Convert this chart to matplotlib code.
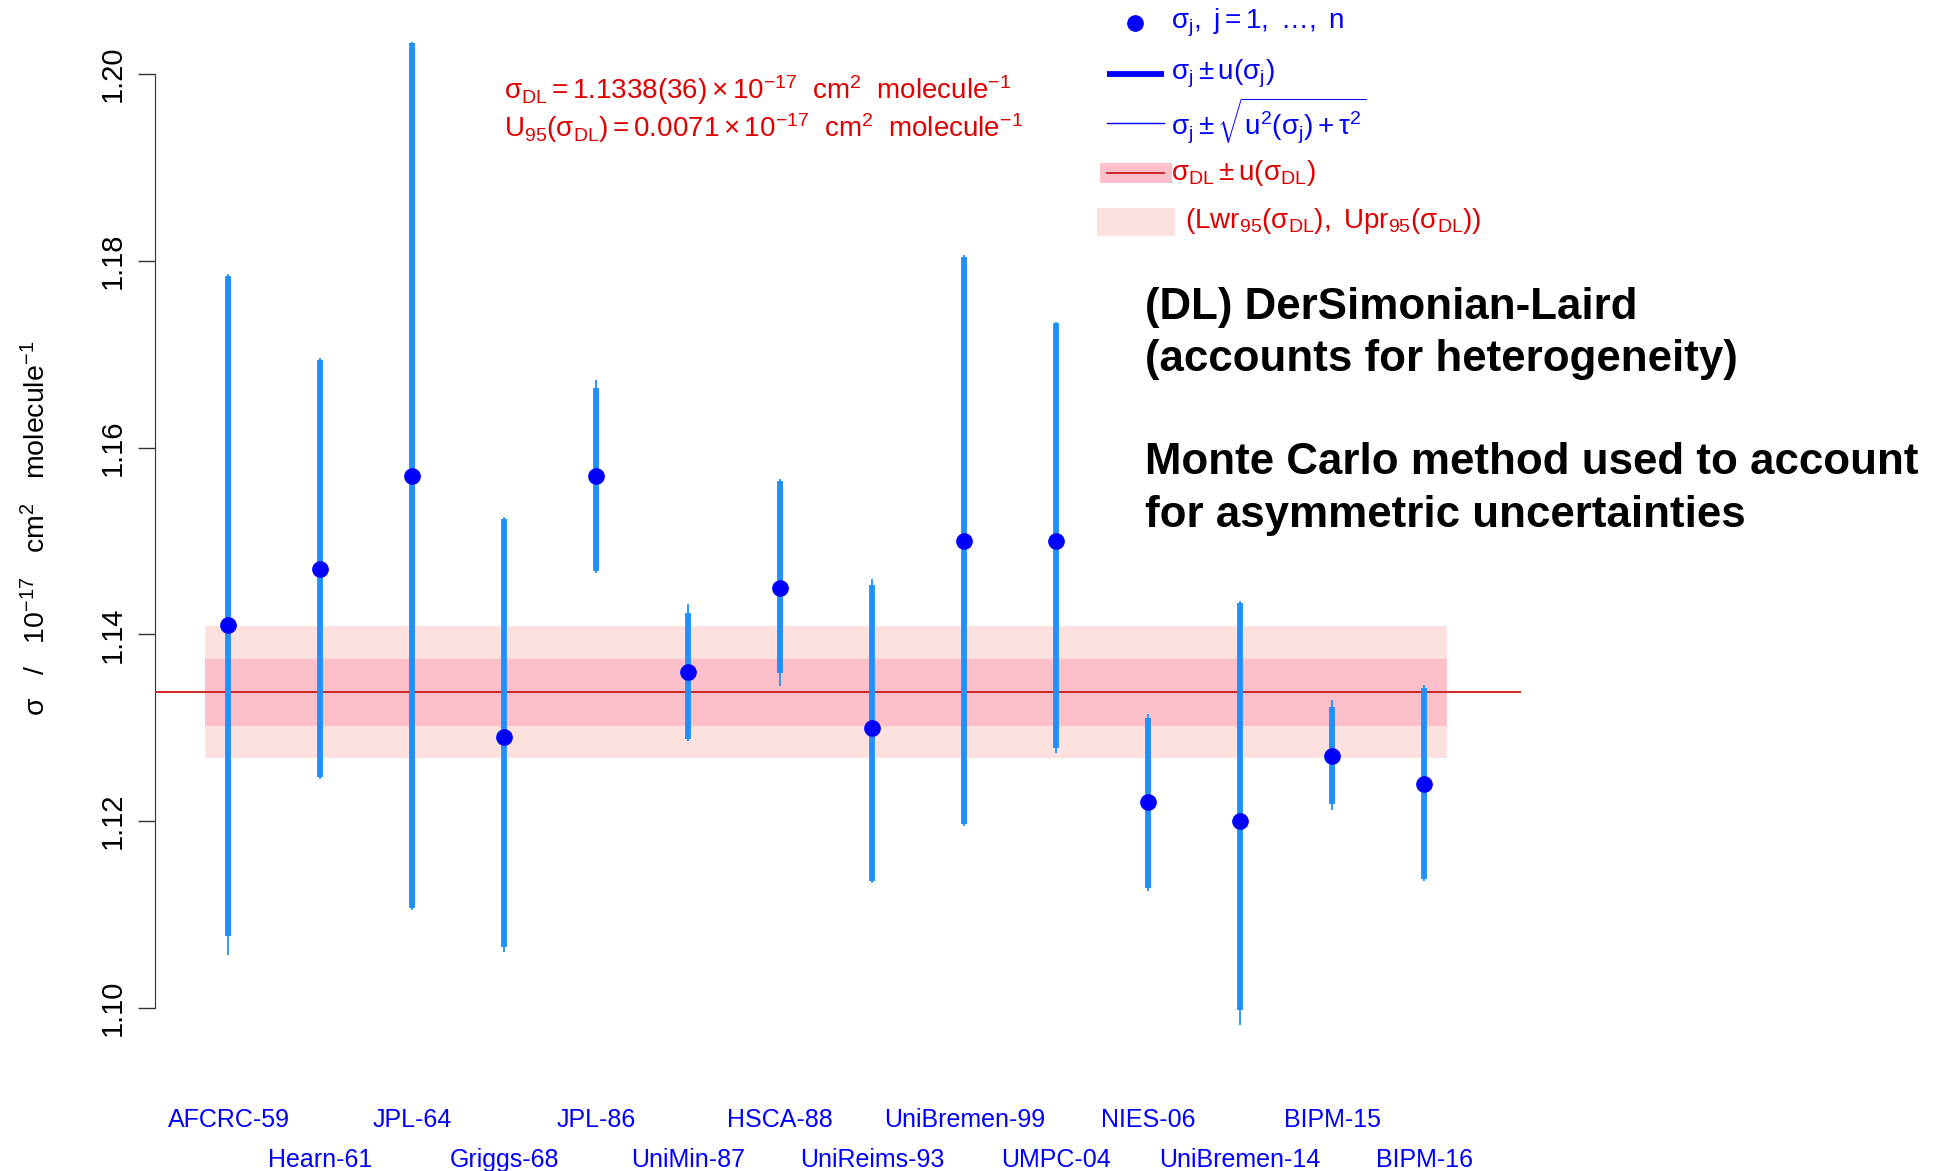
import matplotlib
matplotlib.use("Agg")
import matplotlib.pyplot as plt
from matplotlib.lines import Line2D
from matplotlib.patches import Rectangle
import numpy as np

# labs / estimates (units: 1e-17 cm^2 molecule^-1)
labels = ["AFCRC-59", "Hearn-61", "JPL-64", "Griggs-68", "JPL-86", "UniMin-87",
          "HSCA-88", "UniReims-93", "UniBremen-99", "UMPC-04", "NIES-06",
          "UniBremen-14", "BIPM-15", "BIPM-16"]
sigma = [1.141, 1.147, 1.157, 1.129, 1.157, 1.136, 1.145,
         1.130, 1.150, 1.150, 1.122, 1.120, 1.127, 1.124]
# thick bars: sigma_j +/- u(sigma_j)
u_lo = [1.1077, 1.1247, 1.1107, 1.1065, 1.1468, 1.1288, 1.1359,
        1.1136, 1.1197, 1.1278, 1.1128, 1.0998, 1.1218, 1.1138]
u_hi = [1.1784, 1.1694, 1.2033, 1.1524, 1.1664, 1.1423, 1.1564,
        1.1453, 1.1804, 1.1733, 1.1310, 1.1434, 1.1322, 1.1342]
# thin bars: sigma_j +/- sqrt(u^2 + tau^2)
t_lo = [1.1057, 1.1245, 1.1105, 1.1060, 1.1466, 1.1286, 1.1345,
        1.1134, 1.1195, 1.1273, 1.1125, 1.0982, 1.1212, 1.1136]
t_hi = [1.1786, 1.1696, 1.2035, 1.1526, 1.1672, 1.1433, 1.1566,
        1.1459, 1.1806, 1.1735, 1.1315, 1.1436, 1.1330, 1.1346]

sigma_dl = 1.1338
u_dl = 0.0036
U95 = 0.0071
yticks = [1.10, 1.12, 1.14, 1.16, 1.18, 1.20]

plt.rcParams["font.family"] = "Liberation Sans"
plt.rcParams["mathtext.fontset"] = "custom"
plt.rcParams["mathtext.rm"] = "Liberation Sans"
plt.rcParams["mathtext.it"] = "Liberation Sans:italic"
plt.rcParams["mathtext.default"] = "regular"

W, H = 1941, 1171
fig = plt.figure(figsize=(W / 100, H / 100), dpi=100)
ax = fig.add_axes([0.0798, 0.0916, 0.7037, 0.9064])
ax.set_xlim(0.2, 15.05)
ax.set_ylim(1.094, 1.2077)

x = np.arange(1, len(labels) + 1)
blue = "#0000FF"
bar_blue = "#1E90FF"
red_txt = "#E00000"
fs = 20

# DL estimate: 95% interval, +/- u band and centre line
ax.fill_between([0.75, 14.25], sigma_dl - U95, sigma_dl + U95, color="#FDE1DF", lw=0, zorder=1)
ax.fill_between([0.75, 14.25], sigma_dl - u_dl, sigma_dl + u_dl, color="#FDC0CB", lw=0, zorder=2)
ax.axhline(sigma_dl, color="#CD2626", lw=1.4, zorder=3)

ax.vlines(x, t_lo, t_hi, color=bar_blue, lw=1.3, zorder=4, capstyle="butt")
ax.vlines(x, u_lo, u_hi, color=bar_blue, lw=4.2, zorder=5, capstyle="butt")
ax.plot(x, sigma, "o", color=blue, ms=11, zorder=6)

# axes, R style
for s in ["top", "right", "bottom"]:
    ax.spines[s].set_visible(False)
ax.spines["left"].set_bounds(1.10, 1.20)
ax.spines["left"].set_color("#333333")
ax.set_yticks(yticks)
ax.set_yticklabels([f"{v:.2f}" for v in yticks], rotation=90, va="center", fontsize=21)
ax.tick_params(axis="y", length=12, width=1, pad=8, color="#333333")

ax.set_xticks(x[::2], labels[::2])
ax.set_xticks(x[1::2], labels[1::2], minor=True)
ax.tick_params(axis="x", which="major", length=0, pad=32, labelsize=18, labelcolor=blue)
ax.tick_params(axis="x", which="minor", length=0, pad=61, labelsize=18, labelcolor=blue)

fig.text(37 / W, 1 - 528 / H,
         r"$\sigma\ \ \ /\ \ \ 10^{-17}\ \ \ cm^2\ \ \ molecule^{-1}$",
         rotation=90, ha="center", va="center", fontsize=20.5)

# result annotation
fig.text(504 / W, 1 - 99 / H,
         r"$\sigma_{DL} = 1.1338(36) \times 10^{-17}\ \ cm^2\ \ molecule^{-1}$",
         color=red_txt, fontsize=fs, va="baseline")
fig.text(504 / W, 1 - 137 / H,
         r"$U_{95}(\sigma_{DL}) = 0.0071 \times 10^{-17}\ \ cm^2\ \ molecule^{-1}$",
         color=red_txt, fontsize=fs, va="baseline")

# legend drawn by hand (figure pixels)
def fy(py):
    return 1 - py / H

tx = 1171 / W
fig.add_artist(Line2D([1135 / W], [fy(23)], marker="o", color=blue, ms=11, ls="none"))
fig.text(tx, fy(23), r"$\sigma_j,\ j = 1,\ \ldots,\ n$", color=blue, fontsize=fs, va="center")

fig.add_artist(Line2D([1107 / W, 1164 / W], [fy(74), fy(74)], color=blue, lw=4.2, solid_capstyle="butt"))
fig.text(tx, fy(74), r"$\sigma_j \pm u(\sigma_j)$", color=blue, fontsize=fs, va="center")

fig.add_artist(Line2D([1107 / W, 1164 / W], [fy(123), fy(123)], color=blue, lw=1.0))
fig.text(tx, fy(121), r"$\sigma_j \pm \sqrt{u^2(\sigma_j) + \tau^2}$", color=blue, fontsize=fs, va="center")

fig.add_artist(Rectangle((1100 / W, fy(183)), 72 / W, 20 / H, transform=fig.transFigure,
                         color="#FDC0CB", lw=0))
fig.add_artist(Line2D([1107 / W, 1164 / W], [fy(173), fy(173)], color="#CD2626", lw=1.4))
fig.text(tx, fy(173), r"$\sigma_{DL} \pm u(\sigma_{DL})$", color=red_txt, fontsize=fs, va="center")

fig.add_artist(Rectangle((1097 / W, fy(236)), 78 / W, 28 / H, transform=fig.transFigure,
                         color="#FDE1DF", lw=0))
fig.text(tx + 14 / W, fy(221), r"$(Lwr_{95}(\sigma_{DL}),\ Upr_{95}(\sigma_{DL}))$",
         color=red_txt, fontsize=fs, va="center")

# method notes
for txt, py in [("(DL) DerSimonian-Laird", 307), ("(accounts for heterogeneity)", 360),
                ("Monte Carlo method used to account", 463), ("for asymmetric uncertainties", 516)]:
    fig.text(1145 / W, fy(py), txt, fontsize=31.6, fontweight="bold", va="center")

fig.savefig("out.png", dpi=100)
